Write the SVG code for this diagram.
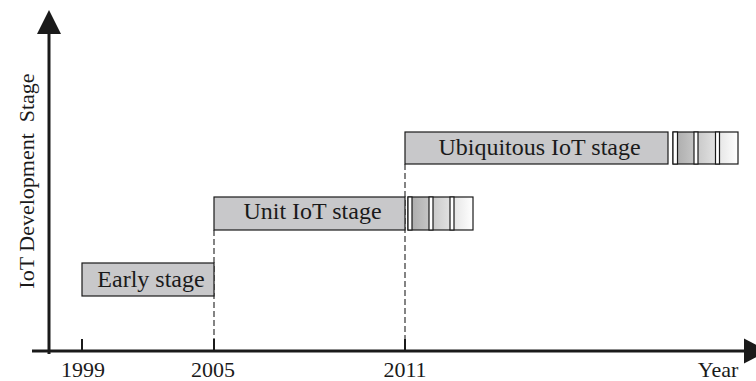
<svg xmlns="http://www.w3.org/2000/svg" width="756" height="381" viewBox="0 0 756 381">
  <style>
    .lbl { font-family: "Liberation Serif", "Times New Roman", serif; fill: #1a1a1a; }
    .stage { fill: #c8c8ca; stroke: #1a1a1a; stroke-width: 1.2; }
    .stageText { font-size: 24px; text-anchor: middle; }
    .yearText { font-size: 22px; text-anchor: middle; }
    .axis { stroke: #1a1a1a; stroke-width: 3; fill: none; }
    .tick { stroke: #1a1a1a; stroke-width: 2; }
    .guide { stroke: #333; stroke-width: 1.2; stroke-dasharray: 6 3; fill: none; }
    .gap { fill: #ffffff; stroke: #1a1a1a; stroke-width: 1.2; }
  </style>
  <defs>
    <linearGradient id="fade" x1="0" y1="0" x2="1" y2="0">
      <stop offset="0" stop-color="#a9a9a9"/>
      <stop offset="1" stop-color="#ffffff"/>
    </linearGradient>
  </defs>

  <rect width="756" height="381" fill="#ffffff"/>

  <!-- connectors: axes, ticks and dashed year guides -->
  <g id="connectors">
    <line class="guide" x1="214" y1="230" x2="214" y2="339"/>
    <line class="guide" x1="405" y1="164" x2="405" y2="339"/>
    <line class="axis" x1="49" y1="30" x2="49" y2="354"/>
    <polygon points="49,10 37,34 61,34" fill="#1a1a1a"/>
    <line class="axis" x1="32" y1="351" x2="748" y2="351"/>
    <polygon points="744,338.5 768,351 744,363.5" fill="#1a1a1a"/>
    <line class="tick" x1="82" y1="339" x2="82" y2="351"/>
    <line class="tick" x1="214" y1="339" x2="214" y2="351"/>
    <line class="tick" x1="405" y1="339" x2="405" y2="351"/>
  </g>

  <!-- axis labels -->
  <g id="axis-labels" class="lbl">
    <text class="yearText" x="83" y="377">1999</text>
    <text class="yearText" x="213" y="377">2005</text>
    <text class="yearText" x="405" y="377">2011</text>
    <text class="yearText" x="718" y="377">Year</text>
    <text font-size="22" text-anchor="middle" xml:space="preserve" style="white-space:pre" transform="translate(34,181) rotate(-90)">IoT Development  Stage</text>
  </g>

  <!-- stage bars -->
  <g id="early-stage">
    <rect class="stage" x="82" y="263" width="132" height="33"/>
    <text class="lbl stageText" x="151" y="287">Early stage</text>
  </g>

  <g id="unit-iot-stage">
    <rect class="stage" x="214" y="197" width="191" height="33"/>
    <text class="lbl stageText" x="312.5" y="219">Unit IoT stage</text>
  </g>

  <g id="unit-iot-continuation">
    <rect x="408" y="197" width="65" height="33" fill="url(#fade)" stroke="#1a1a1a" stroke-width="1.2"/>
    <rect class="gap" x="408" y="197" width="4" height="33"/>
    <rect class="gap" x="429" y="197" width="4" height="33"/>
    <rect class="gap" x="450" y="197" width="4" height="33"/>
  </g>

  <g id="ubiquitous-iot-stage">
    <rect class="stage" x="405" y="132" width="263" height="32"/>
    <text class="lbl stageText" x="539.5" y="155">Ubiquitous IoT stage</text>
  </g>

  <g id="ubiquitous-iot-continuation">
    <rect x="673" y="132" width="65" height="32" fill="url(#fade)" stroke="#1a1a1a" stroke-width="1.2"/>
    <rect class="gap" x="673" y="132" width="4.5" height="32"/>
    <rect class="gap" x="694" y="132" width="4" height="32"/>
    <rect class="gap" x="715.5" y="132" width="4" height="32"/>
  </g>
</svg>
